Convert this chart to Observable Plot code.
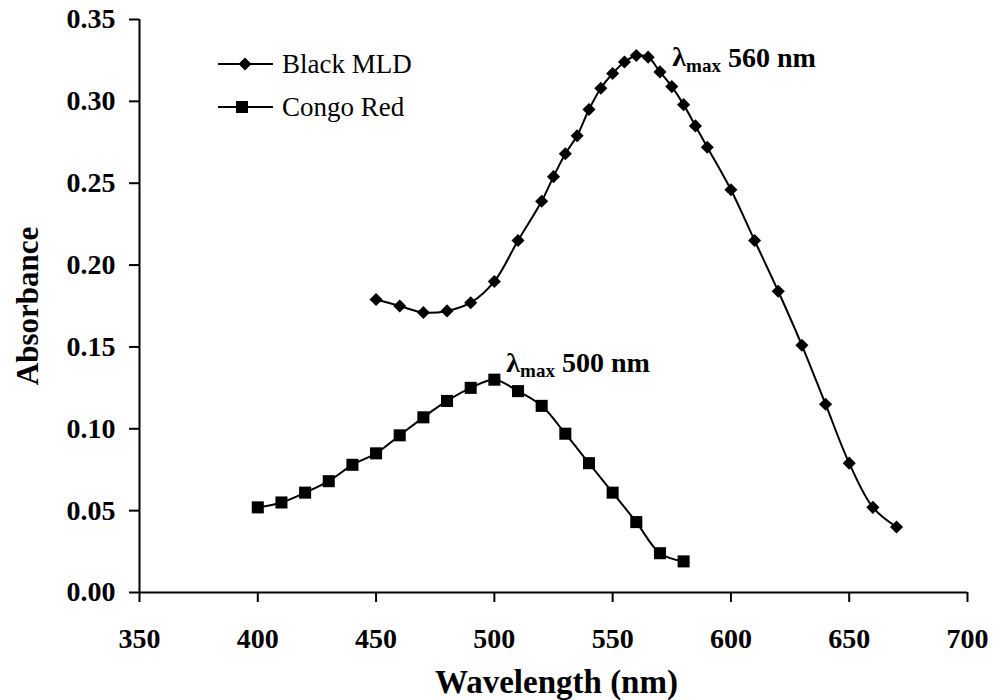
<!DOCTYPE html>
<html><head><meta charset="utf-8">
<script src="https://cdn.jsdelivr.net/npm/d3@7"></script>
<script src="https://cdn.jsdelivr.net/npm/@observablehq/plot@0.6"></script>
<style>
body{margin:0;background:#fff}
#chart{position:relative;width:997px;height:700px}
</style>
</head><body><div id="chart"></div>
<script>
// Data
const blackWavelength = [450,460,470,480,490,500,510,520,525,530,535,540,545,550,555,560,565,570,575,580,585,590,600,610,620,630,640,650,660,670];
const blackAbs = [0.179,0.175,0.171,0.172,0.177,0.190,0.215,0.239,0.254,0.268,0.279,0.295,0.308,0.317,0.324,0.328,0.327,0.318,0.309,0.298,0.285,0.272,0.246,0.215,0.184,0.151,0.115,0.079,0.052,0.040];
const congoWavelength = [400,410,420,430,440,450,460,470,480,490,500,510,520,530,540,550,560,570,580];
const congoAbs = [0.052,0.055,0.061,0.068,0.078,0.085,0.096,0.107,0.117,0.125,0.130,0.123,0.114,0.097,0.079,0.061,0.043,0.024,0.019];
const seriesNames = ["Black MLD","Congo Red"];
const xTicks = [350,400,450,500,550,600,650,700];
const yTicks = [0,0.05,0.10,0.15,0.20,0.25,0.30,0.35];
const peakLabels = ["λmax 560 nm","λmax 500 nm"];
const peakX = [560,500];
const peakY = [0.328,0.130];

const black = blackWavelength.map((w,i)=>({w, a: blackAbs[i]}));
const congo = congoWavelength.map((w,i)=>({w, a: congoAbs[i]}));
const peaks = peakLabels.map((t,i)=>({t, w: peakX[i], a: peakY[i]}));

const serif = "'Liberation Serif', 'Times New Roman', serif";

const chart = Plot.plot({
  width: 997,
  height: 700,
  marginLeft: 139,
  marginRight: 30,
  marginTop: 19,
  marginBottom: 108,
  style: {fontFamily: serif, fontSize: "28px", fontWeight: "bold", color: "#000", background: "#fff"},
  x: {domain: [350,700]},
  y: {domain: [0,0.35]},
  marks: [
    Plot.axisX({ticks: xTicks, tickSize: 10, tickPadding: 26, strokeWidth: 2, label: null, fontSize: 28}),
    Plot.axisY({ticks: yTicks, tickSize: 10, tickPadding: 14, strokeWidth: 2, tickFormat: d3.format(".2f"), label: null, fontSize: 28}),
    Plot.ruleX([350], {y1: 0, y2: 0.35, strokeWidth: 2}),
    Plot.ruleY([0], {x1: 350, x2: 700, strokeWidth: 2}),
    Plot.line(black, {x: "w", y: "a", curve: "catmull-rom", strokeWidth: 2, stroke: "#000"}),
    Plot.line(congo, {x: "w", y: "a", curve: "catmull-rom", strokeWidth: 2, stroke: "#000"}),
    Plot.dot(black, {x: "w", y: "a", symbol: "diamond2", r: 5.9, fill: "#000", stroke: "none"}),
    Plot.dot(congo, {x: "w", y: "a", symbol: "square", r: 6.8, fill: "#000", stroke: "none"}),
    Plot.text(peaks.slice(0,1), {x: "w", y: "a", text: "t", textAnchor: "start", lineAnchor: "middle", dx: 36, dy: 2, fontSize: 28, fontWeight: "bold"}),
    Plot.text(peaks.slice(1), {x: "w", y: "a", text: "t", textAnchor: "start", lineAnchor: "middle", dx: 12, dy: -17, fontSize: 28, fontWeight: "bold"}),
    Plot.text(["Wavelength (nm)"], {frameAnchor: "bottom", textAnchor: "middle", lineAnchor: "middle", dx: 3, dy: 90, fontSize: 33, fontWeight: "bold"}),
    Plot.text(["Absorbance"], {frameAnchor: "left", textAnchor: "middle", lineAnchor: "middle", rotate: -90, dx: -111, fontSize: 31, fontWeight: "bold"})
  ]
});

// subscript "max" in the λmax annotations
d3.select(chart).selectAll("text").each(function(){
  const t = this.textContent;
  if (t.startsWith("λmax")) {
    const el = d3.select(this);
    const rest = t.slice(4);
    el.text(null);
    el.append("tspan").text("λ");
    el.append("tspan").attr("font-size", "0.68em").attr("dy", "0.3em").text("max");
    el.append("tspan").attr("dy", "-0.2em").text(rest);
  }
});

// legend inside plot area
const svg = d3.select(chart);
const lg = svg.append("g").attr("font-family", serif).attr("font-size", 27).attr("font-weight", "normal").attr("text-anchor", "start");
const legendSymbols = [d3.symbolDiamond2, d3.symbolSquare];
const legendSizes = [Math.PI*5.9*5.9, Math.PI*6.8*6.8];
seriesNames.forEach((name,i)=>{
  const y = 64 + i*43;
  lg.append("line").attr("x1",218).attr("x2",273).attr("y1",y).attr("y2",y).attr("stroke","#000").attr("stroke-width",2);
  lg.append("path").attr("d", d3.symbol(legendSymbols[i], legendSizes[i])()).attr("transform",`translate(${i?242:245},${y})`).attr("fill","#000");
  lg.append("text").attr("x",282).attr("y",y).attr("dy","0.34em").attr("fill","#000").attr("text-anchor","start").text(name);
});

document.getElementById("chart").appendChild(chart);
</script>
</body></html>
